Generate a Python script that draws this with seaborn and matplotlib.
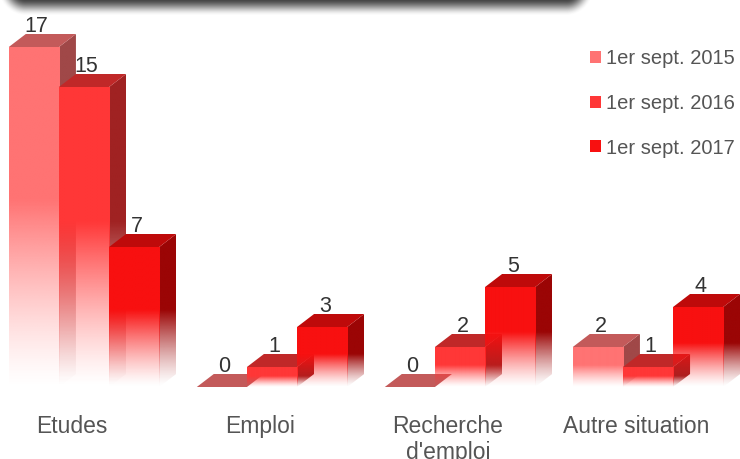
import numpy as np
import pandas as pd
import matplotlib
matplotlib.use("Agg")
import matplotlib.pyplot as plt
import seaborn as sns
from matplotlib.patches import Polygon, Patch
from matplotlib.colors import to_rgb

# -------------------------
# Data
# -------------------------
categories = ["Etudes", "Emploi", "Recherche\nd'emploi", "Autre situation"]
series = ["1er sept. 2015", "1er sept. 2016", "1er sept. 2017"]
vals_2015 = [17, 0, 0, 2]
vals_2016 = [15, 1, 2, 1]
vals_2017 = [7, 3, 5, 4]

front_colors = ["#FF7373", "#FF3737", "#F81010"]
top_colors = ["#C35A5A", "#C02828", "#BE0A0A"]
side_colors = ["#A04848", "#A02222", "#9B0505"]

df = pd.DataFrame({
    "situation": categories * len(series),
    "date": np.repeat(series, len(categories)),
    "nombre": vals_2015 + vals_2016 + vals_2017,
})

# -------------------------
# Config
# -------------------------
sns.set_theme(style="white")
plt.rcParams["font.family"] = ["Liberation Sans", "DejaVu Sans"]

W, H, DPI = 740, 459, 100
base_px = 387          # floor of the bars, px from top
px_per_cat = 188.0
px_per_unit = 20.0
first_label_px = 72.0
bar_shift = 12 / px_per_cat
dx = 17 / px_per_cat   # 3D depth
dy = 13 / px_per_unit

fig = plt.figure(figsize=(W / DPI, H / DPI), dpi=DPI)

# title box shadow cut off at the top
deco = fig.add_axes([0, 1 - 30 / H, 1, 30 / H], zorder=0)
xx, yy = np.meshgrid(np.arange(W) + 0.5, np.arange(30) + 0.5)
cx, cy, hw, hh, r = (12 + 580) / 2, -20, (580 - 12) / 2, 22, 14
qx = np.abs(xx - cx) - (hw - r)
qy = np.abs(yy - cy) - (hh - r)
d = np.hypot(np.maximum(qx, 0), np.maximum(qy, 0)) + np.minimum(np.maximum(qx, qy), 0) - r
t = np.clip((d + 4) / 18, 0, 1)
alpha = 1 - t * t * (3 - 2 * t)
img = np.zeros((30, W, 4))
img[..., :3] = 0.2
img[..., 3] = alpha * 0.95
deco.imshow(img, extent=[0, W, 30, 0], aspect="auto", interpolation="bilinear")
deco.set_xlim(0, W)
deco.set_ylim(30, 0)
deco.axis("off")

ax = fig.add_axes([0, (H - base_px) / H, 1, base_px / H], zorder=1)
ax.set_facecolor("none")

sns.barplot(
    data=df, x="situation", y="nombre", hue="date",
    palette=front_colors, width=0.8, saturation=1,
    errorbar=None, legend=False, ax=ax
)


def fade(n, rgb, top=1.0):
    # alpha ramps up from the floor, fully opaque above ~55% of the bar
    t = np.linspace(0, top, n)
    a = np.clip(t / 0.55, 0, 1) ** 1.3
    arr = np.zeros((n, 1, 4))
    arr[:, 0, :3] = rgb
    arr[:, 0, 3] = a
    return arr


bars = sorted(ax.patches, key=lambda p: p.get_x())
for j, p in enumerate(bars):
    k = j % len(series)
    p.set_x(p.get_x() + bar_shift)
    x0, w, h = p.get_x(), p.get_width(), p.get_height()
    p.set_facecolor("none")
    p.set_edgecolor("none")
    z = 2 + j * 0.01

    if h > 0:
        side = Polygon([(x0 + w, 0), (x0 + w + dx, dy), (x0 + w + dx, h + dy), (x0 + w, h)],
                       closed=True, facecolor="none", edgecolor="none")
        ax.add_patch(side)
        im = ax.imshow(fade(200, to_rgb(side_colors[k]), (h + dy) / h),
                       extent=[x0 + w, x0 + w + dx, 0, h + dy],
                       origin="lower", aspect="auto", interpolation="bilinear", zorder=z)
        im.set_clip_path(side)
        im2 = ax.imshow(fade(200, to_rgb(front_colors[k])), extent=[x0, x0 + w, 0, h],
                        origin="lower", aspect="auto", interpolation="bilinear", zorder=z + 0.003)
        im2.set_clip_path(p)

    ax.add_patch(Polygon([(x0, h), (x0 + dx, h + dy), (x0 + w + dx, h + dy), (x0 + w, h)],
                         closed=True, facecolor=top_colors[k], edgecolor="none", zorder=z + 0.006))
    ax.text(x0 + w / 2 + dx * 0.15, h + dy + 0.08, f"{int(h)}", ha="center", va="baseline",
            fontsize=15.5, color="#333333", zorder=5)

ax.set_xlim(-first_label_px / px_per_cat, (W - first_label_px) / px_per_cat)
ax.set_ylim(0, base_px / px_per_unit)
ax.set_xlabel("")
ax.set_ylabel("")
ax.set_yticks([])
ax.tick_params(axis="x", length=0, pad=20, labelsize=16.5, labelcolor="#555555")
sns.despine(ax=ax, left=True, bottom=True)

handles = [Patch(facecolor=c, edgecolor="none", label=s) for c, s in zip(front_colors, series)]
ax.legend(handles=handles, loc="upper left", bbox_to_anchor=(590 / W, 1 - 49 / H),
          bbox_transform=fig.transFigure, frameon=False, fontsize=14.5,
          labelcolor="#555555", handlelength=0.55, handleheight=0.55,
          handletextpad=0.25, labelspacing=1.28, borderpad=0, borderaxespad=0)

fig.savefig("out.png", dpi=DPI)
plt.close(fig)
